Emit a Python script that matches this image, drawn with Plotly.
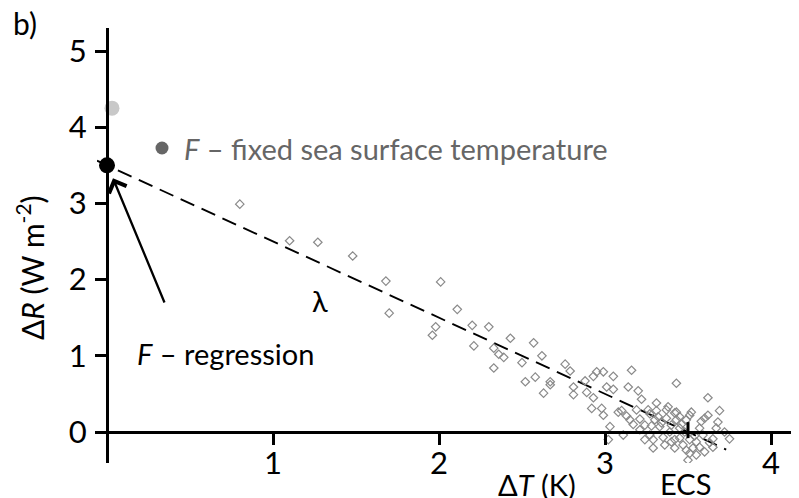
import plotly.graph_objects as go

# ---------------- data ----------------
F_regression = 3.5          # W m-2, y-intercept of regression
lam = -1.0                  # W m-2 K-1, feedback parameter (slope)
ECS = 3.5                   # K, x-intercept
F_fixed_sst = 4.25          # W m-2
F_fixed_sst_dT = 0.03       # K

dT = [0.80, 1.10, 1.27, 1.48, 1.68, 1.70, 2.01, 2.11, 1.98, 1.96,
      2.20, 2.30, 2.21, 2.33, 2.36, 2.39, 2.33, 2.43, 2.57, 2.62,
      2.50, 2.52, 2.58, 2.67, 2.67, 2.63, 2.76, 2.79, 2.81, 2.81,
      2.88, 2.89, 2.93, 2.95, 2.99, 3.05, 3.16, 2.93, 2.92, 3.01,
      3.05, 3.14, 3.20, 3.22, 3.31, 3.43, 3.62, 2.98, 2.99, 3.08,
      3.10, 3.13, 3.03, 3.11, 3.02, 3.19, 3.21, 3.17, 3.26, 3.27,
      3.31, 3.37, 3.43, 3.28, 3.33, 3.27, 3.29, 3.35, 3.39, 3.36,
      3.42, 3.62, 3.68, 3.67, 3.75, 3.72, 3.65, 3.63, 3.52, 3.51,
      3.58, 3.60, 3.57, 3.54, 3.59, 3.42, 3.42, 3.45, 3.49, 3.37,
      3.29, 3.50, 3.49, 3.53, 3.57, 3.65, 3.24, 3.30, 3.34, 3.40,
      3.45, 3.48, 3.51, 3.55, 3.45, 3.40, 3.47, 3.51, 3.55, 3.60,
      3.43, 3.21, 3.15, 3.24, 3.69, 3.38, 3.32, 3.46]
dR = [2.99, 2.51, 2.49, 2.31, 1.98, 1.56, 1.97, 1.61, 1.38, 1.27,
      1.40, 1.38, 1.13, 1.10, 1.02, 0.98, 0.84, 1.23, 1.17, 1.00,
      0.91, 0.66, 0.72, 0.66, 0.62, 0.51, 0.89, 0.80, 0.59, 0.49,
      0.67, 0.52, 0.73, 0.79, 0.79, 0.73, 0.81, 0.45, 0.31, 0.59,
      0.56, 0.59, 0.54, 0.43, 0.38, 0.64, 0.45, 0.31, 0.22, 0.26,
      0.28, 0.21, 0.07, -0.04, -0.10, 0.29, 0.17, 0.10, 0.29, 0.24,
      0.28, 0.29, 0.26, 0.08, 0.07, -0.04, -0.10, -0.07, 0.00, -0.17,
      -0.10, 0.22, 0.13, 0.05, -0.09, 0.00, -0.09, -0.14, 0.26, 0.22,
      0.14, 0.18, 0.05, -0.05, -0.04, -0.21, 0.25, 0.20, 0.16, 0.18,
      -0.21, -0.37, -0.24, -0.21, -0.20, -0.20, 0.09, 0.16, 0.12, 0.09,
      0.05, 0.00, -0.10, -0.13, -0.08, -0.13, -0.17, -0.28, -0.30, -0.26,
      0.16, 0.03, 0.16, -0.10, 0.28, 0.33, 0.20, 0.10]

x_ticks = [1, 2, 3, 4]
y_ticks = [0, 1, 2, 3, 4, 5]

# ---------------- layout geometry (window pixels; page body has 8px margin) ----------------
OFF = 8
W_TOT, H_TOT = 799 - OFF, 498 - OFF
PLOT_LEFT, PLOT_RIGHT, PLOT_TOP, PLOT_BOTTOM = 97, 799, 28, 463
L = PLOT_LEFT - OFF
T = PLOT_TOP - OFF
R = W_TOT - (PLOT_RIGHT - OFF)
B = H_TOT - (PLOT_BOTTOM - OFF)
PW = PLOT_RIGHT - PLOT_LEFT
PH = PLOT_BOTTOM - PLOT_TOP
X0_PX, XUNIT = 107, 166.0     # window pixel of x=0, px per K
Y0_PX, YUNIT = 432, 76.2      # window pixel of y=0, px per W m-2

x_lo = -(X0_PX - PLOT_LEFT) / XUNIT
x_hi = x_lo + PW / XUNIT
y_lo = -(PLOT_BOTTOM - Y0_PX) / YUNIT
y_hi = y_lo + PH / YUNIT


def pxx(p):
    return (p - PLOT_LEFT) / PW


def pxy(p):
    return (PLOT_BOTTOM - p) / PH


FONT = "Lato, 'Open Sans', sans-serif"
FS = 29
TFS = 31

fig = go.Figure()

# regression dashed line
lx = [x_lo, 3.73]
ly = [F_regression + lam * v for v in lx]
fig.add_trace(go.Scatter(x=lx, y=ly, mode="lines",
                         line=dict(color="black", width=1.9, dash="15px,8px"),
                         hoverinfo="skip"))

# model points
fig.add_trace(go.Scatter(x=dT, y=dR, mode="markers",
                         marker=dict(symbol="diamond-open", size=6.5,
                                     color="#8a8a8a", line=dict(width=1.2, color="#8a8a8a"))))

# ECS tick
fig.add_trace(go.Scatter(x=[ECS, ECS], y=[-0.08, 0.13], mode="lines",
                         line=dict(color="black", width=3), hoverinfo="skip"))

# F fixed SST (light grey) and F regression (black)
fig.add_trace(go.Scatter(x=[F_fixed_sst_dT], y=[F_fixed_sst], mode="markers",
                         marker=dict(size=15, color="#c8c8c8")))
fig.add_trace(go.Scatter(x=[0], y=[F_regression], mode="markers",
                         marker=dict(size=16, color="black")))

# legend-like key dot for fixed SST text
fig.add_shape(type="circle", xref="paper", yref="paper",
              x0=pxx(155.5), x1=pxx(168.5), y0=pxy(154.5), y1=pxy(141.5),
              fillcolor="#666666", line=dict(width=0))

annots = [
    dict(text="b)", x=pxx(25), y=pxy(23), font=dict(color="black", size=30)),
    dict(text="<i>F</i> – fixed sea surface temperature", x=pxx(396), y=pxy(148),
         font=dict(color="#666666", size=FS)),
    dict(text="<i>F</i> – regression", x=pxx(225), y=pxy(353), font=dict(color="black", size=FS)),
    dict(text="λ", x=pxx(320), y=pxy(300), font=dict(color="black", size=FS)),
    dict(text="ECS", x=pxx(685), y=pxy(483), font=dict(color="black", size=FS)),
    dict(text="Δ<i>T</i> (K)", x=pxx(537), y=pxy(484), font=dict(color="black", size=FS)),
    dict(text="Δ<i>R</i> (W m<sup>-2</sup>)", x=pxx(30), y=pxy(268), textangle=-90,
         font=dict(color="black", size=30)),
]
for a in annots:
    a["font"].update(family=FONT)
    fig.add_annotation(xref="paper", yref="paper", showarrow=False, borderpad=0,
                       xanchor="center", yanchor="middle", **a)

# arrow pointing to F regression
fig.add_annotation(x=0.036, y=3.33, ax=0.35, ay=1.68, xref="x", yref="y",
                   axref="x", ayref="y", text="", showarrow=True,
                   arrowhead=4, arrowsize=1.6, arrowwidth=2.3, arrowcolor="black")

fig.update_layout(
    width=W_TOT, height=H_TOT,
    margin=dict(l=L, r=R, t=T, b=B, pad=0),
    paper_bgcolor="white", plot_bgcolor="white",
    showlegend=False,
    font=dict(family=FONT, size=FS, color="black"),
    xaxis=dict(range=[x_lo, x_hi], showgrid=False, zeroline=False,
               showline=True, linecolor="black", linewidth=3,
               anchor="free", position=pxy(Y0_PX),
               ticks="outside", ticklen=11, tickwidth=3, tickcolor="black",
               tickvals=x_ticks, ticktext=[str(v) for v in x_ticks],
               tickfont=dict(family=FONT, size=TFS, color="black"),
               ticklabelstandoff=-8, automargin=False, fixedrange=True),
    yaxis=dict(range=[y_lo, y_hi], showgrid=False, zeroline=False,
               showline=True, linecolor="black", linewidth=3,
               anchor="free", position=pxx(X0_PX),
               ticks="outside", ticklen=11, tickwidth=3, tickcolor="black",
               tickvals=y_ticks, ticktext=[str(v) for v in y_ticks],
               tickfont=dict(family=FONT, size=TFS, color="black"),
               ticklabelstandoff=2, automargin=False, fixedrange=True),
)

fig.write_html("out.html")
